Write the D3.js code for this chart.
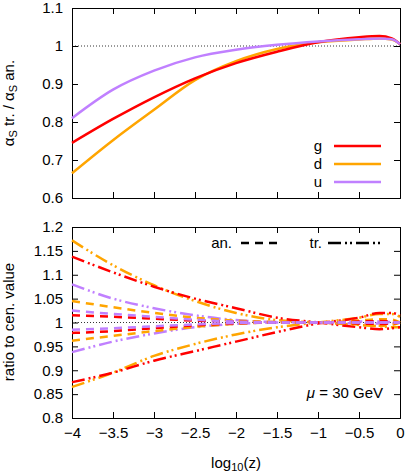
<!DOCTYPE html>
<html><head><meta charset="utf-8">
<script src="https://cdn.jsdelivr.net/npm/d3@7"></script>
<style>body{margin:0;background:#fff}text{font-family:"Liberation Sans",Arial,sans-serif;font-size:15px}</style>
</head><body><svg id="chart" width="407" height="472"></svg>
<script>
let xs = [-4, -3.5, -3, -2.5, -2, -1.5, -1, -0.5, -0.25, -0.1, 0];
// top panel: alpha_s tr. / alpha_s an.
let gTop = [0.745, 0.808, 0.865, 0.915, 0.955, 0.985, 1.010, 1.023, 1.026, 1.020, 1.005];
let dTop = [0.665, 0.752, 0.832, 0.910, 0.960, 0.992, 1.010, 1.017, 1.020, 1.017, 1.005];
let uTop = [0.810, 0.885, 0.935, 0.970, 0.990, 1.003, 1.012, 1.018, 1.020, 1.018, 1.005];
// bottom panel: ratio to central value
let gTrUp = [1.138, 1.105, 1.075, 1.050, 1.030, 1.010, 1.000, 0.990, 0.986, 0.988, 0.990];
let gTrLo = [0.875, 0.895, 0.920, 0.940, 0.960, 0.980, 0.998, 1.010, 1.020, 1.020, 1.015];
let dTrUp = [1.172, 1.120, 1.078, 1.045, 1.020, 1.005, 1.000, 0.995, 0.992, 0.990, 0.990];
let dTrLo = [0.865, 0.895, 0.930, 0.955, 0.975, 0.990, 1.000, 1.010, 1.018, 1.018, 1.012];
let uTrUp = [1.080, 1.050, 1.030, 1.015, 1.005, 1.001, 1.000, 0.998, 0.998, 0.999, 1.000];
let uTrLo = [0.938, 0.960, 0.977, 0.990, 0.997, 1.000, 1.000, 1.002, 1.002, 1.001, 1.000];
let gAnUp = [1.015, 1.012, 1.008, 1.004, 1.002, 1.000, 1.000, 0.998, 0.997, 0.998, 1.000];
let gAnLo = [0.978, 0.982, 0.988, 0.994, 0.998, 1.000, 1.000, 1.002, 1.003, 1.002, 1.000];
let dAnUp = [1.045, 1.032, 1.020, 1.010, 1.004, 1.001, 1.000, 0.996, 0.993, 0.995, 1.000];
let dAnLo = [0.962, 0.972, 0.982, 0.991, 0.997, 1.000, 1.000, 1.004, 1.007, 1.006, 1.000];
let uAnUp = [1.025, 1.018, 1.012, 1.006, 1.002, 1.000, 1.000, 1.000, 1.000, 1.000, 1.000];
let uAnLo = [0.985, 0.988, 0.992, 0.996, 0.999, 1.000, 1.000, 1.000, 1.000, 1.000, 1.000];

let cG = "#ff0000", cD = "#ffa500", cU = "#c080ff";
let svg = d3.select("#chart");
let x = d3.scaleLinear().domain([-4, 0]).range([72, 400]);
let yT = d3.scaleLinear().domain([0.6, 1.1]).range([198, 8]);
let yB = d3.scaleLinear().domain([0.8, 1.2]).range([418, 227]);

function frame(y, ticks, fmt, showX) {
  let g = svg.append("g");
  g.append("g").attr("transform", `translate(0,${y.range()[0]})`)
    .call(d3.axisBottom(x).ticks(8).tickSize(-6).tickPadding(9).tickFormat(showX ? d3.format("") : ""));
  g.append("g").attr("transform", `translate(0,${y.range()[1]})`)
    .call(d3.axisTop(x).ticks(8).tickSize(-6).tickFormat(""));
  g.append("g").attr("transform", "translate(72,0)")
    .call(d3.axisLeft(y).tickValues(ticks).tickSize(-6).tickPadding(9).tickFormat(fmt));
  g.append("g").attr("transform", "translate(400,0)")
    .call(d3.axisRight(y).tickValues(ticks).tickSize(-6).tickFormat(""));
  g.selectAll(".domain").attr("stroke", "#000");
  g.selectAll("text").attr("font-size", 15).attr("fill", "#000").style("font-family", "Liberation Sans, Arial");
  svg.append("line").attr("x1", 72).attr("x2", 400).attr("y1", y(1)).attr("y2", y(1))
    .attr("stroke", "#000").attr("stroke-width", 0.8).attr("stroke-dasharray", "1,2");
}
frame(yT, d3.range(0.6, 1.101, 0.1), d3.format(".2~f"), false);
frame(yB, d3.range(0.8, 1.2001, 0.05), d3.format(".3~f"), true);

function curve(y, vals, color, dash) {
  let line = d3.line().x((d, i) => x(xs[i])).y(d => y(d)).curve(d3.curveMonotoneX);
  svg.append("path").attr("d", line(vals)).attr("fill", "none").attr("stroke", color)
    .attr("stroke-width", 2.5).attr("stroke-dasharray", dash || null);
}
curve(yT, dTop, cD); curve(yT, gTop, cG); curve(yT, uTop, cU);
let an = "8,6", tr = "13,4,2,3,2,4";
[[dTrUp, cD], [dTrLo, cD], [gTrUp, cG], [gTrLo, cG], [uTrUp, cU], [uTrLo, cU]].forEach(s => curve(yB, s[0], s[1], tr));
[[dAnUp, cD], [dAnLo, cD], [gAnUp, cG], [gAnLo, cG], [uAnUp, cU], [uAnLo, cU]].forEach(s => curve(yB, s[0], s[1], an));

// legends
[["g", cG, 146], ["d", cD, 164], ["u", cU, 182]].forEach(l => {
  svg.append("text").attr("x", 322).attr("y", l[2] + 5).attr("text-anchor", "end").text(l[0]);
  svg.append("line").attr("x1", 334).attr("x2", 381).attr("y1", l[2]).attr("y2", l[2]).attr("stroke", l[1]).attr("stroke-width", 2.5);
});
svg.append("text").attr("x", 232).attr("y", 248).attr("text-anchor", "end").text("an.");
svg.append("line").attr("x1", 241).attr("x2", 280).attr("y1", 243).attr("y2", 243).attr("stroke", "#000").attr("stroke-width", 2.5).attr("stroke-dasharray", an);
svg.append("text").attr("x", 322).attr("y", 248).attr("text-anchor", "end").text("tr.");
svg.append("line").attr("x1", 328).attr("x2", 381).attr("y1", 243).attr("y2", 243).attr("stroke", "#000").attr("stroke-width", 2.5).attr("stroke-dasharray", tr);
let mu = svg.append("text").attr("x", 383).attr("y", 398).attr("text-anchor", "end");
mu.append("tspan").attr("font-style", "italic").text("μ");
mu.append("tspan").text(" = 30 GeV");

// axis titles
let yl = svg.append("text").attr("transform", "translate(14,103) rotate(-90)").attr("text-anchor", "middle");
yl.append("tspan").text("α");
yl.append("tspan").attr("font-size", 11).attr("dy", 3).text("S");
yl.append("tspan").attr("dy", -3).text(" tr. / α");
yl.append("tspan").attr("font-size", 11).attr("dy", 3).text("S");
yl.append("tspan").attr("dy", -3).text(" an.");
svg.append("text").attr("transform", "translate(14,322) rotate(-90)").attr("text-anchor", "middle").text("ratio to cen. value");
let xl = svg.append("text").attr("x", 236).attr("y", 468).attr("text-anchor", "middle");
xl.append("tspan").text("log");
xl.append("tspan").attr("font-size", 11).attr("dy", 3).text("10");
xl.append("tspan").attr("dy", -3).text("(z)");
</script></body></html>
